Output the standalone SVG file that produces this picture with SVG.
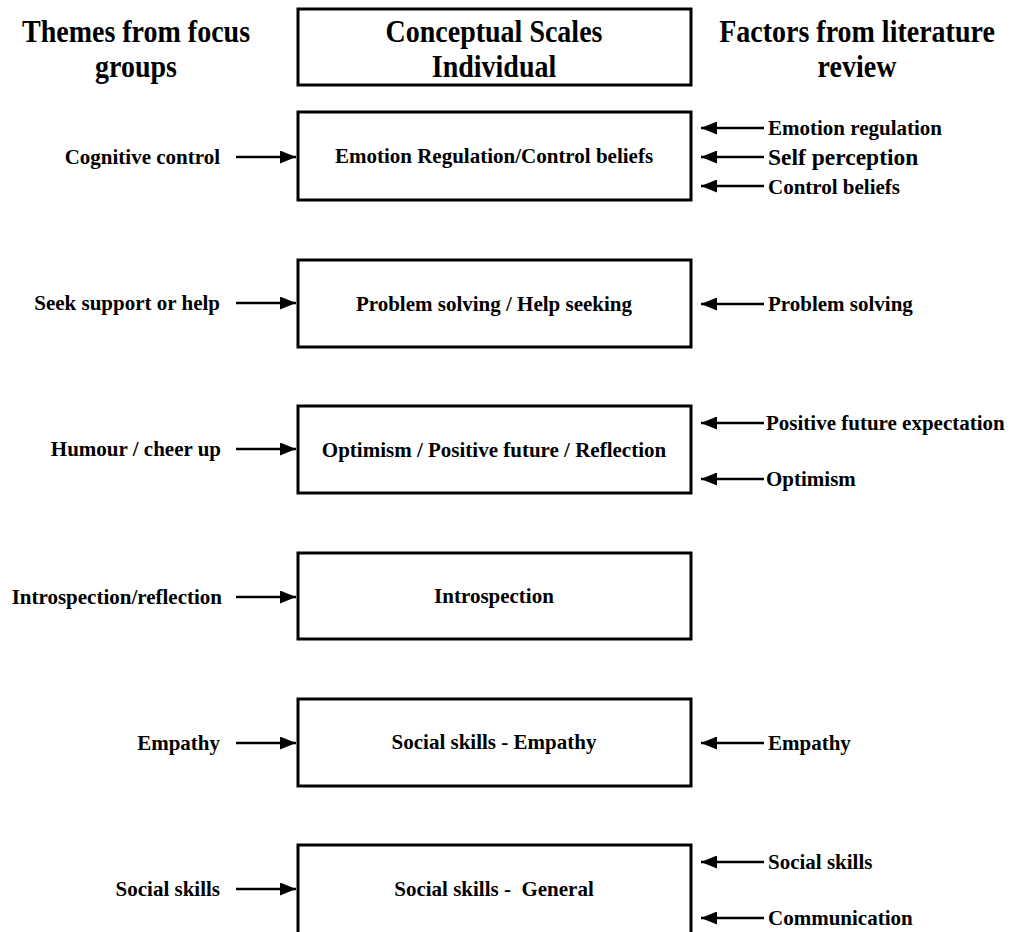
<svg xmlns="http://www.w3.org/2000/svg" width="1016" height="932" viewBox="0 0 1016 932">
<style>
text{font-family:"Liberation Serif","Times New Roman",serif;font-weight:bold;fill:#000}
.hd{font-size:28px;text-anchor:middle}
.nd{font-size:21px;text-anchor:middle}
.lf{font-size:21px;text-anchor:end}
.rt{font-size:21px;text-anchor:start}
.big{font-size:23.5px}
.box{fill:#fff;stroke:#000;stroke-width:3}
.ar{stroke:#000;stroke-width:2.5;fill:none;marker-end:url(#ah)}
</style>
<defs>
<marker id="ah" markerUnits="userSpaceOnUse" markerWidth="16" markerHeight="13" refX="16" refY="6.5" orient="auto">
<path d="M0,0 L16,6.5 L0,13 z" fill="#000"/>
</marker>
</defs>
<rect width="1016" height="932" fill="#fff"/>
<g id="header-left">
<text class="hd" transform="translate(136,42) scale(1,1.1)">Themes from focus</text>
<text class="hd" transform="translate(136,77) scale(1,1.1)">groups</text>
</g>
<g id="header-center">
<rect class="box" x="298" y="9" width="393" height="76"/>
<text class="hd" transform="translate(494,42) scale(1,1.1)">Conceptual Scales</text>
<text class="hd" transform="translate(494,77) scale(1,1.1)">Individual</text>
</g>
<g id="header-right">
<text class="hd" transform="translate(857,42) scale(1,1.1)">Factors from literature</text>
<text class="hd" transform="translate(857,77) scale(1,1.1)">review</text>
</g>
<g id="node1">
<rect class="box" x="298" y="112" width="393" height="88"/>
<text class="nd" x="494" y="163">Emotion Regulation/Control beliefs</text>
</g>
<g id="node2">
<rect class="box" x="298" y="260" width="393" height="87"/>
<text class="nd" x="494" y="311">Problem solving / Help seeking</text>
</g>
<g id="node3">
<rect class="box" x="298" y="406" width="393" height="87"/>
<text class="nd" x="494" y="457">Optimism / Positive future / Reflection</text>
</g>
<g id="node4">
<rect class="box" x="298" y="553" width="393" height="86"/>
<text class="nd" x="494" y="603">Introspection</text>
</g>
<g id="node5">
<rect class="box" x="298" y="699" width="393" height="87"/>
<text class="nd" x="494" y="749">Social skills - Empathy</text>
</g>
<g id="node6">
<rect class="box" x="298" y="845" width="393" height="90"/>
<text class="nd" x="494" y="896" xml:space="preserve">Social skills -  General</text>
</g>
<g id="left-labels">
<text class="lf" x="220" y="164">Cognitive control</text>
<text class="lf" x="220" y="310">Seek support or help</text>
<text class="lf" x="221" y="456">Humour / cheer up</text>
<text class="lf" x="222" y="604">Introspection/reflection</text>
<text class="lf" x="220" y="750">Empathy</text>
<text class="lf" x="220" y="896">Social skills</text>
</g>
<g id="right-labels">
<text class="rt" x="768" y="135">Emotion regulation</text>
<text class="rt big" x="768" y="165">Self perception</text>
<text class="rt" x="768" y="194">Control beliefs</text>
<text class="rt" x="768" y="311">Problem solving</text>
<text class="rt" x="766" y="430">Positive future expectation</text>
<text class="rt" x="766" y="486">Optimism</text>
<text class="rt" x="768" y="750">Empathy</text>
<text class="rt" x="768" y="869">Social skills</text>
<text class="rt" x="768" y="925">Communication</text>
</g>
<g id="connectors">
<line class="ar" x1="236" y1="157" x2="296" y2="157"/>
<line class="ar" x1="236" y1="303" x2="296" y2="303"/>
<line class="ar" x1="236" y1="449" x2="296" y2="449"/>
<line class="ar" x1="236" y1="597" x2="296" y2="597"/>
<line class="ar" x1="236" y1="743" x2="296" y2="743"/>
<line class="ar" x1="236" y1="889" x2="296" y2="889"/>
<line class="ar" x1="764" y1="128" x2="701" y2="128"/>
<line class="ar" x1="764" y1="157" x2="701" y2="157"/>
<line class="ar" x1="764" y1="186" x2="701" y2="186"/>
<line class="ar" x1="764" y1="304" x2="701" y2="304"/>
<line class="ar" x1="764" y1="423" x2="701" y2="423"/>
<line class="ar" x1="764" y1="479" x2="701" y2="479"/>
<line class="ar" x1="764" y1="743" x2="701" y2="743"/>
<line class="ar" x1="764" y1="862" x2="701" y2="862"/>
<line class="ar" x1="764" y1="918" x2="701" y2="918"/>
</g>
</svg>
